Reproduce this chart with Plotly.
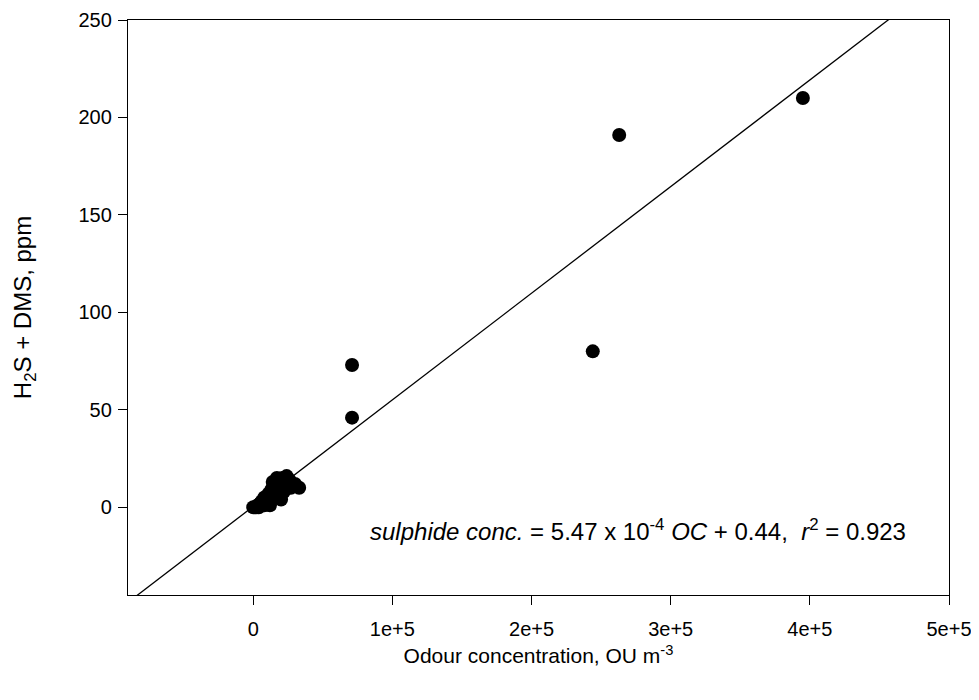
import plotly.graph_objects as go

# Data
odour_x = [0, 2000, 3000, 5000, 4000, 8000, 10000, 12000, 8000, 11000, 13000, 15000,
           14000, 17000, 19000, 21000, 24000, 26000, 22000, 18000, 20000, 27000,
           33000, 30000, 16000, 6000,
           71000, 71000, 244000, 263000, 395000]
sulphide_y = [0, 0, 1, 2, 0, 1, 3, 1, 5, 7, 9, 11,
              13, 15, 12, 15, 16, 14, 8, 5, 4, 10,
              10, 12, 9, 3,
              73, 46, 80, 191, 210]

slope = 5.47e-4
intercept = 0.44
fit_x = [-90000, 500000]
fit_y = [slope * v + intercept for v in fit_x]

x_tickvals = [0, 100000, 200000, 300000, 400000, 500000]
x_ticktext = ["0", "1e+5", "2e+5", "3e+5", "4e+5", "5e+5"]
y_tickvals = [0, 50, 100, 150, 200, 250]

font = "Liberation Sans, Arial, sans-serif"

fig = go.Figure()
fig.add_trace(go.Scatter(x=fit_x, y=fit_y, mode="lines",
                         line=dict(color="black", width=1.3), showlegend=False,
                         hoverinfo="skip"))
fig.add_trace(go.Scatter(x=odour_x, y=sulphide_y, mode="markers",
                         marker=dict(color="black", size=14), showlegend=False))

fig.update_layout(
    width=971, height=692,
    margin=dict(l=120, r=30, t=12, b=105),
    plot_bgcolor="white", paper_bgcolor="white",
    font=dict(family=font, color="black", size=20),
    xaxis=dict(range=[-90000, 500000], tickvals=x_tickvals, ticktext=x_ticktext,
               showline=True, mirror=True, linecolor="black", linewidth=1.3,
               ticks="outside", ticklen=9, tickcolor="black", showgrid=False,
               zeroline=False, tickfont=dict(size=20), automargin=False,
               ticklabelstandoff=7,
               title=dict(text="Odour concentration, OU m<sup>-3</sup>",
                          font=dict(size=21), standoff=9)),
    yaxis=dict(range=[-45, 250], tickvals=y_tickvals,
               showline=True, mirror=True, linecolor="black", linewidth=1.3,
               ticks="outside", ticklen=9, tickcolor="black", showgrid=False,
               zeroline=False, tickfont=dict(size=20), automargin=False,
               ticklabelstandoff=2,
               title=dict(text="H<sub>2</sub>S + DMS, ppm", font=dict(size=24),
                          standoff=40)),
    annotations=[dict(
        text="<i>sulphide conc.</i> = 5.47 x 10<sup>-4</sup> <i>OC</i> + 0.44,  <i>r</i><sup>2</sup> = 0.923",
        xref="paper", yref="paper", x=0.292, y=0.113, xanchor="left", yanchor="middle",
        showarrow=False, font=dict(size=24, family=font))],
)

fig.write_html("out.html")
